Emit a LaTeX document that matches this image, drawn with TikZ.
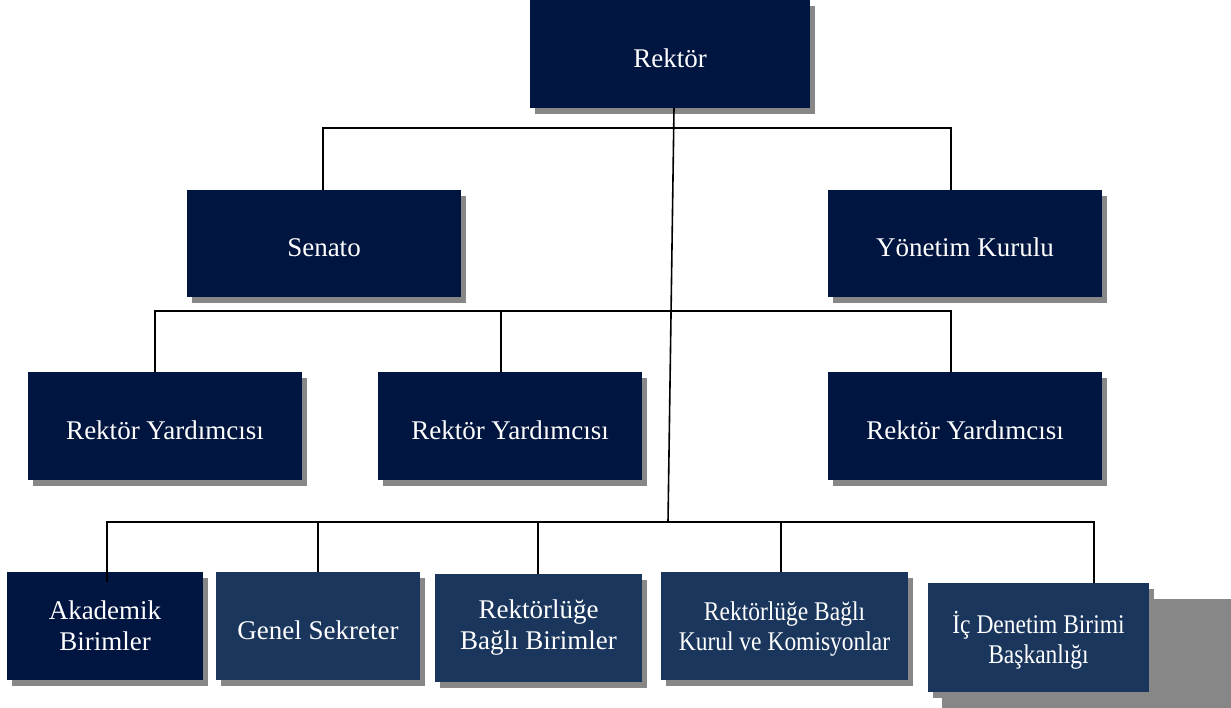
\documentclass[tikz,border=0pt]{standalone}
\usepackage{fontspec}
\setmainfont{Liberation Serif}
\newfontfamily\narrowserif[FakeStretch=0.87]{Liberation Serif}
\usepackage{xcolor}
\usetikzlibrary{shadows}
\definecolor{navy}{HTML}{001641}
\definecolor{steel}{HTML}{1A365D}
\definecolor{shadowgray}{HTML}{878787}

\begin{document}
\begin{tikzpicture}[x=1pt, y=-1pt,
  unit/.style={rectangle, fill=navy, text=white, align=center, inner sep=0pt,
    font=\fontsize{27}{31}\selectfont, text height=27pt, text depth=0pt,
    drop shadow={shadow xshift=5pt, shadow yshift=-6pt, fill=shadowgray, opacity=1}},
  subunit/.style={unit, fill=steel},
  twoline/.style={text height={}, text depth={}},
  narrow/.style={text height={}, text depth=-2pt, font=\narrowserif\fontsize{27}{30}\selectfont},
  link/.style={draw=black, line width=1.6pt}]
\useasboundingbox (0,0) rectangle (1231,708);

% top levels
\node[unit, minimum width=280pt, minimum height=108pt] (rektor) at (670,54) {Rektör};
\node[unit, minimum width=274pt, minimum height=107pt] (senato) at (324,243.5) {Senato};
\node[unit, minimum width=274pt, minimum height=107pt] (yonetim) at (965,243.5) {Yönetim Kurulu};

\node[unit, minimum width=274pt, minimum height=108pt] (ry1) at (165,426) {Rektör Yardımcısı};
\node[unit, minimum width=264pt, minimum height=108pt] (ry2) at (510,426) {Rektör Yardımcısı};
\node[unit, minimum width=274pt, minimum height=108pt] (ry3) at (965,426) {Rektör Yardımcısı};

% bottom row
\node[unit, twoline, minimum width=196pt, minimum height=108pt] (akademik) at (105,626) {Akademik\\Birimler};
\node[subunit, minimum width=204pt, minimum height=108pt] (genel) at (318,626) {Genel Sekreter};
\node[subunit, twoline, minimum width=207pt, minimum height=108pt] (birimler) at (538.5,628) {Rektörlüğe\\Bağlı Birimler};
\node[subunit, narrow, minimum width=247pt, minimum height=108pt] (kurul) at (784.5,626) {Rektörlüğe Bağlı\\Kurul ve Komisyonlar};
\fill[shadowgray] (942,599) rectangle (1231,708);
\node[subunit, narrow, minimum width=221pt, minimum height=109pt, drop shadow={opacity=0}] (icdenetim) at (1038.5,637.5) {İç Denetim Birimi\\Başkanlığı};

% bars
\coordinate (b1l) at (323,128);
\coordinate (b1r) at (951,128);
\coordinate (b2l) at (155,311);
\coordinate (b2m) at (501,311);
\coordinate (b2r) at (951,311);
\coordinate (hub) at (668,522);
\coordinate (b3a) at (107,522);
\coordinate (b3b) at (318,522);
\coordinate (b3c) at (538,522);
\coordinate (b3d) at (781,522);
\coordinate (b3e) at (1094,522);
\coordinate (akin) at (107,582);

\draw[link] ([xshift=4pt]rektor.south) -- (hub);
\draw[link] (b1l |- senato.north) -- (b1l) -- (b1r) -- (b1r |- yonetim.north);
\draw[link] (b2l |- ry1.north) -- (b2l) -- (b2r) -- (b2r |- ry3.north);
\draw[link] (b2m) -- (b2m |- ry2.north);
\draw[link] (akin) -- (b3a) -- (b3e) -- (b3e |- icdenetim.north);
\foreach \p/\n in {b3b/genel, b3c/birimler, b3d/kurul}
  \draw[link] (\p) -- (\p |- \n.north);
\end{tikzpicture}
\end{document}
